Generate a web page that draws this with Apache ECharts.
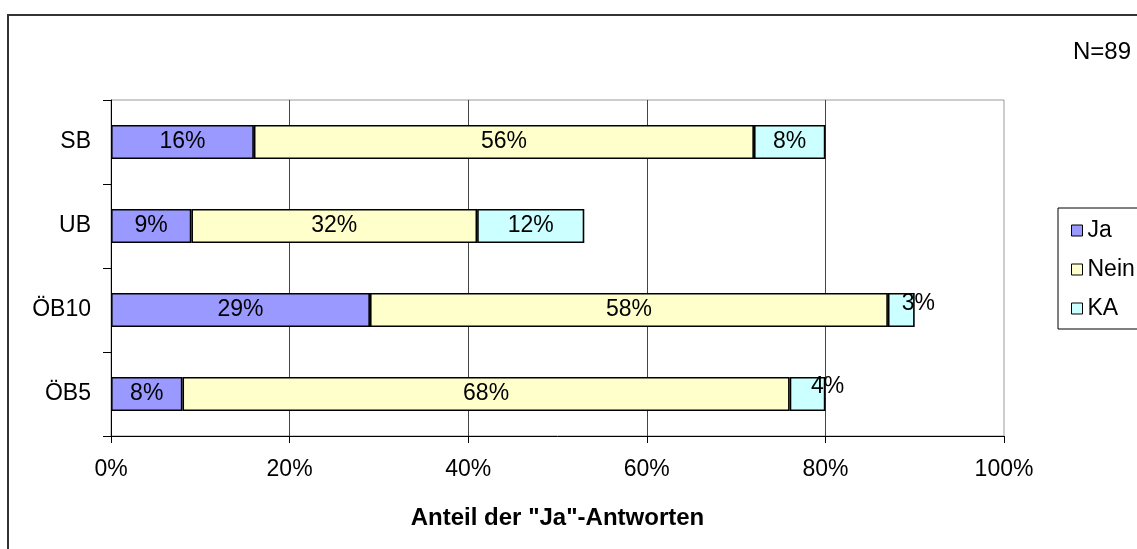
<!DOCTYPE html>
<html>
<head>
<meta charset="utf-8">
<script src="https://cdn.jsdelivr.net/npm/echarts@6/dist/echarts.min.js"></script>
<style>
html,body{margin:0;padding:0;background:#fff;}
#chart{width:1137px;height:549px;}
</style>
</head>
<body>
<div id="chart"></div>
<script>
const categories = ['SB', 'UB', 'ÖB10', 'ÖB5'];
const seriesNames = ['Ja', 'Nein', 'KA'];
const jaValues = [16, 9, 29, 8];
const neinValues = [56, 32, 58, 68];
const kaValues = [8, 12, 3, 4];
const xTicks = [0, 20, 40, 60, 80, 100];
const axisTitle = 'Anteil der "Ja"-Antworten';
const noteText = 'N=89';

const FONT = '"Liberation Sans", Arial, sans-serif';
const colors = ['#9999FF', '#FFFFCC', '#CCFFFF'];

function buildData(values, idx) {
  return values.map(function (v, i) {
    const item = { value: v };
    // small KA segments: Excel placed the labels shifted right/up
    if (idx === 2 && categories[i] === 'ÖB10') item.label = { offset: [17, -6] };
    if (idx === 2 && categories[i] === 'ÖB5') item.label = { offset: [20, -7] };
    return item;
  });
}

const allValues = [jaValues, neinValues, kaValues];
const series = seriesNames.map(function (name, idx) {
  return {
    name: name,
    type: 'bar',
    stack: 'total',
    barWidth: 34,
    data: buildData(allValues[idx], idx),
    itemStyle: { color: colors[idx], borderColor: '#000', borderWidth: 1.6 },
    label: {
      show: true,
      position: 'inside',
      formatter: '{c}%',
      color: '#000',
      fontSize: 23,
      fontFamily: FONT
    },
    emphasis: { disabled: true }
  };
});

const chart = echarts.init(document.getElementById('chart'), null, { renderer: 'canvas' });
chart.setOption({
  animation: false,
  backgroundColor: '#fff',
  textStyle: { fontFamily: FONT },
  grid: {
    left: 111, right: 133, top: 100, bottom: 113,
    show: true, borderColor: '#999', borderWidth: 1, backgroundColor: 'transparent'
  },
  xAxis: {
    type: 'value',
    min: xTicks[0],
    max: xTicks[xTicks.length - 1],
    interval: xTicks[1] - xTicks[0],
    axisLine: { show: true, lineStyle: { color: '#000', width: 1 } },
    axisTick: { show: true, length: 7, lineStyle: { color: '#000' } },
    axisLabel: { formatter: '{value}%', color: '#000', fontSize: 23, fontFamily: FONT, margin: 22 },
    splitLine: { show: true, showMinLine: false, showMaxLine: false, lineStyle: { color: '#444', width: 1 } },
    name: axisTitle,
    nameLocation: 'middle',
    nameGap: 70,
    nameTextStyle: { color: '#000', fontSize: 24, fontWeight: 'bold', fontFamily: FONT }
  },
  yAxis: {
    type: 'category',
    data: categories,
    inverse: true,
    axisLine: { show: true, lineStyle: { color: '#000', width: 1 } },
    axisTick: { show: true, length: 8, lineStyle: { color: '#000' } },
    axisLabel: { color: '#000', fontSize: 23, fontFamily: FONT, margin: 20 },
    splitLine: { show: false }
  },
  legend: {
    orient: 'vertical',
    left: 1058,
    top: 208,
    padding: [11, 40, 9, 13],
    itemWidth: 11,
    itemHeight: 11,
    itemGap: 16,
    icon: 'rect',
    borderColor: '#000',
    borderWidth: 1,
    backgroundColor: '#fff',
    itemStyle: { borderColor: '#000', borderWidth: 1 },
    textStyle: { color: '#000', fontSize: 23, fontFamily: FONT },
    data: seriesNames
  },
  graphic: [
    {
      type: 'rect',
      z: -10,
      silent: true,
      shape: { x: 8, y: 15, width: 1300, height: 700 },
      style: { fill: 'none', stroke: '#333', lineWidth: 2 }
    },
    {
      type: 'text',
      right: 6,
      top: 40,
      style: { text: noteText, fill: '#000', fontSize: 24, fontFamily: FONT }
    }
  ],
  series: series
});
</script>
</body>
</html>
